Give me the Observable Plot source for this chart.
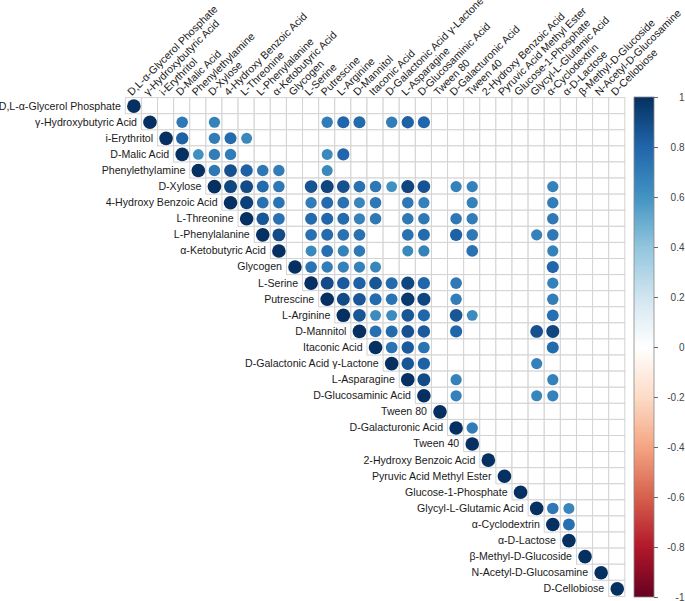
<!DOCTYPE html>
<html>
<head>
<meta charset="utf-8">
<script src="https://cdn.jsdelivr.net/npm/d3@7"></script>
<script src="https://cdn.jsdelivr.net/npm/@observablehq/plot@0.6"></script>
<style>
  html, body { margin: 0; padding: 0; background: #fff; }
  #wrap { position: relative; width: 685px; height: 601px; overflow: hidden; }
  #wrap svg { position: absolute; left: 0; top: 0; }
</style>
</head>
<body>
<div id="wrap"></div>
<script>
// Variable names (rows and columns, same order)
const names = [
  "D,L-α-Glycerol Phosphate", "γ-Hydroxybutyric Acid", "i-Erythritol", "D-Malic Acid",
  "Phenylethylamine", "D-Xylose", "4-Hydroxy Benzoic Acid", "L-Threonine",
  "L-Phenylalanine", "α-Ketobutyric Acid", "Glycogen", "L-Serine", "Putrescine",
  "L-Arginine", "D-Mannitol", "Itaconic Acid", "D-Galactonic Acid γ-Lactone",
  "L-Asparagine", "D-Glucosaminic Acid", "Tween 80", "D-Galacturonic Acid", "Tween 40",
  "2-Hydroxy Benzoic Acid", "Pyruvic Acid Methyl Ester", "Glucose-1-Phosphate",
  "Glycyl-L-Glutamic Acid", "α-Cyclodextrin", "α-D-Lactose", "β-Methyl-D-Glucoside",
  "N-Acetyl-D-Glucosamine", "D-Cellobiose"
];

// Off-diagonal significant correlations: [row index, column index, r]
const corrPairs = [
  [1,3,.72],[1,5,.68],[1,12,.70],[1,13,.80],[1,14,.78],[1,16,.70],[1,17,.82],[1,18,.80],
  [2,3,.82],[2,5,.70],[2,6,.78],[2,7,.65],
  [3,4,.62],[3,5,.70],[3,6,.70],[3,12,.65],[3,13,.80],
  [4,5,.72],[4,6,.88],[4,7,.82],[4,8,.72],[4,9,.70],[4,12,.65],
  [5,6,.92],[5,7,.90],[5,8,.78],[5,9,.72],[5,11,.87],[5,12,.92],[5,13,.88],[5,14,.75],[5,15,.72],[5,16,.62],[5,17,.92],[5,18,.87],[5,20,.68],[5,21,.68],[5,26,.68],
  [6,7,.94],[6,8,.75],[6,9,.74],[6,11,.70],[6,12,.78],[6,13,.75],[6,14,.66],[6,15,.72],[6,17,.72],[6,18,.68],[6,21,.68],[6,26,.70],
  [7,8,.86],[7,9,.75],[7,11,.78],[7,12,.80],[7,13,.78],[7,14,.68],[7,15,.72],[7,17,.72],[7,18,.72],[7,20,.72],[7,21,.70],[7,26,.72],
  [8,9,.90],[8,11,.75],[8,12,.78],[8,13,.75],[8,14,.75],[8,17,.75],[8,18,.78],[8,20,.82],[8,21,.72],[8,25,.68],[8,26,.72],
  [9,11,.65],[9,12,.76],[9,13,.68],[9,14,.72],[9,17,.65],[9,18,.68],[9,21,.75],[9,26,.68],
  [10,11,.74],[10,12,.70],[10,13,.68],[10,14,.68],[10,15,.66],[10,26,.80],
  [11,12,.90],[11,13,.84],[11,14,.82],[11,15,.86],[11,16,.78],[11,17,.92],[11,18,.80],[11,20,.72],[11,26,.68],
  [12,13,.90],[12,14,.86],[12,15,.78],[12,16,.74],[12,17,.97],[12,18,.92],[12,20,.70],[12,26,.70],
  [13,14,.86],[13,15,.64],[13,16,.64],[13,17,.86],[13,18,.80],[13,20,.86],[13,21,.64],[13,26,.76],
  [14,15,.76],[14,16,.78],[14,17,.88],[14,18,.84],[14,20,.80],[14,25,.88],[14,26,.92],
  [15,16,.74],[15,17,.84],[15,18,.74],[15,26,.78],
  [16,17,.86],[16,18,.82],[16,25,.68],
  [17,18,.90],[17,20,.68],[17,26,.68],
  [18,20,.68],[18,25,.66],[18,26,.68],
  [20,21,.70],
  [25,26,.72],[25,27,.66],
  [26,27,.76]
];

// Colour bar ticks
const barTicks = [1, 0.8, 0.6, 0.4, 0.2, 0, -0.2, -0.4, -0.6, -0.8, -1];
const barTickLabels = ["1", "0.8", "0.6", "0.4", "0.2", "0", "-0.2", "-0.4", "-0.6", "-0.8", "-1"];

// RdBu palette stops (corrplot COL2)
const paletteStops = [-1, -0.8, -0.6, -0.4, -0.2, 0, 0.2, 0.4, 0.6, 0.8, 1];
const paletteColors = ["#67001F","#B2182B","#D6604D","#F4A582","#FDDBC7","#FFFFFF","#D1E5F0","#92C5DE","#4393C3","#2166AC","#053061"];

const colorOpts = {type: "linear", domain: paletteStops, range: paletteColors, interpolate: "rgb"};
const FONT = "'Liberation Sans', Arial, sans-serif";

// Build tables
const cells = [];
names.forEach((a, i) => names.forEach((b, j) => { if (j >= i) cells.push({row: a, col: b}); }));
const dots = names.map(n => ({row: n, col: n, r: 1}))
  .concat(corrPairs.map(([i, j, r]) => ({row: names[i], col: names[j], r})));

const X0 = 125.3, X1 = 624.8, Y0 = 97.6, Y1 = 596.4;

const main = Plot.plot({
  width: 685, height: 601,
  margin: 0,
  style: {fontFamily: FONT, background: "transparent"},
  x: {type: "band", domain: names, range: [X0, X1], padding: 0, round: false, axis: null},
  y: {type: "band", domain: names, range: [Y0, Y1], padding: 0, round: false, axis: null},
  color: colorOpts,
  r: {type: "sqrt", domain: [0, 1], range: [0, 6.8]},
  marks: [
    Plot.cell(cells, {x: "col", y: "row", fill: "white", stroke: "#d3d3d3", strokeWidth: 1}),
    Plot.dot(dots, {x: "col", y: "row", r: "r", fill: "r", stroke: null}),
    Plot.text(names, {x: d => d, y: d => d, text: d => d, textAnchor: "end", dx: -13,
      fontSize: 10.6, fill: "#1a1a1a"}),
    Plot.text(names, {x: d => d, y: () => names[0], text: d => d, textAnchor: "start",
      lineAnchor: "bottom", rotate: -45, dx: -2, dy: -10, fontSize: 10.6, fill: "#1a1a1a"})
  ]
});

const bar = Plot.plot({
  width: 685, height: 601,
  margin: 0,
  style: {fontFamily: FONT, background: "transparent"},
  x: {domain: [0, 1], range: [634, 654], axis: null},
  y: {domain: [-1, 1], range: [597, 97], axis: null},
  color: colorOpts,
  marks: [
    Plot.rect(d3.range(200), {x1: 0, x2: 1, y1: i => -1 + i / 100, y2: i => -1 + (i + 1) / 100,
      fill: i => -1 + (i + 0.5) / 100, inset: 0, shapeRendering: "crispEdges"}),
    Plot.rect([0], {x1: 0, x2: 1, y1: -1, y2: 1, fill: "none", stroke: "#888", strokeWidth: 0.8}),
    Plot.ruleY(barTicks, {y: d => d, x1: 1, x2: 1.2, stroke: "#444", strokeWidth: 0.8}),
    Plot.text(barTicks, {y: d => d, x: 2.5, text: (d, i) => barTickLabels[i], textAnchor: "end",
      fontSize: 10, fill: "#444"})
  ]
});

const wrap = document.getElementById("wrap");
wrap.appendChild(main);
wrap.appendChild(bar);
</script>
</body>
</html>
